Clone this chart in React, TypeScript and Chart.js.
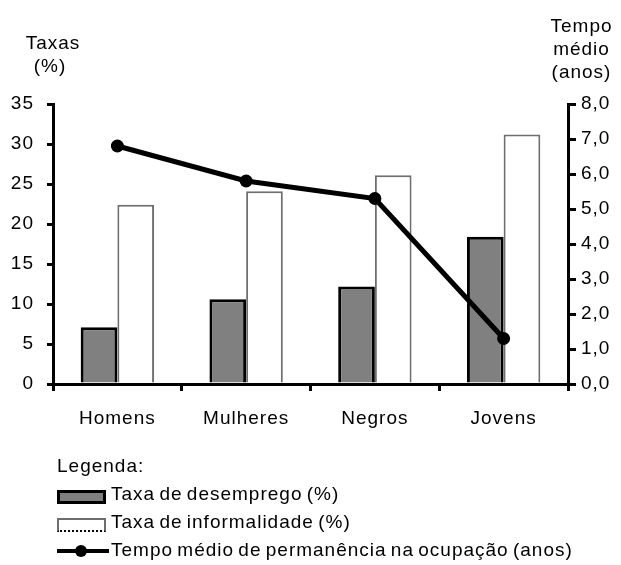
import React, { useEffect, useRef } from "react";
import { Chart, registerables } from "chart.js";

Chart.register(...registerables);

const categories = ["Homens", "Mulheres", "Negros", "Jovens"];
const taxaDesemprego = [7.1, 10.6, 12.2, 18.4];
const taxaInformalidade = [22.4, 24.1, 26.1, 31.2];
const tempoMedio = [6.8, 5.8, 5.3, 1.3];
const leftTicks = [0, 5, 10, 15, 20, 25, 30, 35];
const rightTicks = [0, 1, 2, 3, 4, 5, 6, 7, 8];

const legendLabels = [
  "Taxa de desemprego (%)",
  "Taxa de informalidade (%)",
  "Tempo médio de permanência na ocupação (anos)",
];

const FONT = "'Liberation Sans', Arial, sans-serif";
const FS = 19;
const W = 621;
const H = 565;

export default function App() {
  const ref = useRef<HTMLCanvasElement | null>(null);

  useEffect(() => {
    if (!ref.current) return;
    const spacingPlugin = {
      id: "spacing",
      beforeDraw(chart: any) {
        (chart.ctx as any).letterSpacing = "1px";
      },
    };
    const chart = new Chart(ref.current, {
      type: "bar",
      data: {
        labels: categories,
        datasets: [
          {
            type: "line",
            label: legendLabels[2],
            data: tempoMedio,
            yAxisID: "y1",
            borderColor: "#000",
            backgroundColor: "#000",
            borderWidth: 5,
            pointRadius: 6.5,
            pointBackgroundColor: "#000",
            pointBorderWidth: 0,
            tension: 0,
            order: 0,
          } as any,
          {
            type: "bar",
            label: legendLabels[0],
            data: taxaDesemprego,
            yAxisID: "y",
            backgroundColor: "#808080",
            borderColor: "#000",
            borderWidth: 3,
            categoryPercentage: 0.57,
            barPercentage: 1.0,
            order: 1,
          },
          {
            type: "bar",
            label: legendLabels[1],
            data: taxaInformalidade,
            yAxisID: "y",
            backgroundColor: "#fff",
            borderColor: "#6e6e6e",
            borderWidth: 2,
            categoryPercentage: 0.57,
            barPercentage: 1.0,
            order: 1,
          },
        ],
      },
      options: {
        responsive: false,
        animation: false,
        devicePixelRatio: 1,
        layout: { padding: { top: 104, left: 0, right: 0, bottom: 0 } },
        plugins: {
          legend: { display: false },
          tooltip: { enabled: false },
        },
        scales: {
          x: {
            type: "category",
            offset: true,
            grid: {
              offset: true,
              drawOnChartArea: false,
              drawTicks: true,
              tickLength: 7,
              lineWidth: 3,
              color: "#000",
            },
            border: { display: true, width: 3, color: "#000" },
            ticks: {
              color: "#000",
              font: { family: FONT, size: FS },
              padding: 16,
            },
            afterFit(scale: any) {
              scale.height = H - 384;
            },
          },
          y: {
            position: "left",
            min: 0,
            max: 35,
            afterBuildTicks(scale: any) {
              scale.ticks = leftTicks.map((v) => ({ value: v }));
            },
            grid: {
              drawOnChartArea: false,
              drawTicks: true,
              tickLength: 6,
              lineWidth: 3,
              color: "#000",
            },
            border: { display: true, width: 3, color: "#000" },
            ticks: {
              color: "#000",
              font: { family: FONT, size: FS },
              padding: 13,
              callback: (v: any) => String(v),
            },
            afterFit(scale: any) {
              scale.width = 53;
            },
          },
          y1: {
            position: "right",
            min: 0,
            max: 8,
            afterBuildTicks(scale: any) {
              scale.ticks = rightTicks.map((v) => ({ value: v }));
            },
            grid: {
              drawOnChartArea: false,
              drawTicks: true,
              tickLength: 8,
              lineWidth: 3,
              color: "#000",
            },
            border: { display: true, width: 3, color: "#000" },
            ticks: {
              color: "#000",
              font: { family: FONT, size: FS },
              padding: 5,
              callback: (v: any) => Number(v).toFixed(1).replace(".", ","),
            },
            afterFit(scale: any) {
              scale.width = W - 568;
            },
          },
        },
      },
      plugins: [spacingPlugin],
    });
    return () => chart.destroy();
  }, []);

  const textStyle: React.CSSProperties = {
    position: "absolute",
    fontFamily: FONT,
    fontSize: FS,
    letterSpacing: "1px",
    color: "#000",
    whiteSpace: "nowrap",
    lineHeight: "22px",
  };
  const legendText: React.CSSProperties = { ...textStyle, wordSpacing: "-2px" };

  return (
    <div
      style={{
        position: "fixed",
        left: 0,
        top: 0,
        width: W,
        height: H,
        background: "#fff",
      }}
    >
      <canvas ref={ref} width={W} height={H} style={{ width: W, height: H, display: "block" }} />
      <div style={{ ...textStyle, left: 0, width: 106, top: 32, textAlign: "center" }}>Taxas</div>
      <div style={{ ...textStyle, left: 0, width: 100, top: 55, textAlign: "center" }}>(%)</div>
      <div style={{ ...textStyle, left: 541, width: 81, top: 15, textAlign: "center" }}>Tempo</div>
      <div style={{ ...textStyle, left: 541, width: 81, top: 38, textAlign: "center" }}>médio</div>
      <div style={{ ...textStyle, left: 541, width: 81, top: 61, textAlign: "center" }}>(anos)</div>

      <div style={{ ...legendText, left: 57, top: 455 }}>Legenda:</div>

      <div
        style={{
          position: "absolute",
          left: 57,
          top: 490,
          width: 43,
          height: 8,
          background: "#808080",
          border: "3px solid #000",
        }}
      />
      <div style={{ ...legendText, left: 111, top: 483 }}>{legendLabels[0]}</div>

      <div
        style={{
          position: "absolute",
          left: 57,
          top: 518,
          width: 45,
          height: 10,
          background: "#fff",
          border: "2px solid #6e6e6e",
          borderBottom: "2px dotted #000",
        }}
      />
      <div style={{ ...legendText, left: 111, top: 511 }}>{legendLabels[1]}</div>

      <div
        style={{
          position: "absolute",
          left: 57,
          top: 549,
          width: 52,
          height: 4,
          background: "#000",
        }}
      />
      <div
        style={{
          position: "absolute",
          left: 75,
          top: 545,
          width: 12,
          height: 12,
          borderRadius: 6,
          background: "#000",
        }}
      />
      <div style={{ ...legendText, left: 111, top: 539 }}>{legendLabels[2]}</div>
    </div>
  );
}
